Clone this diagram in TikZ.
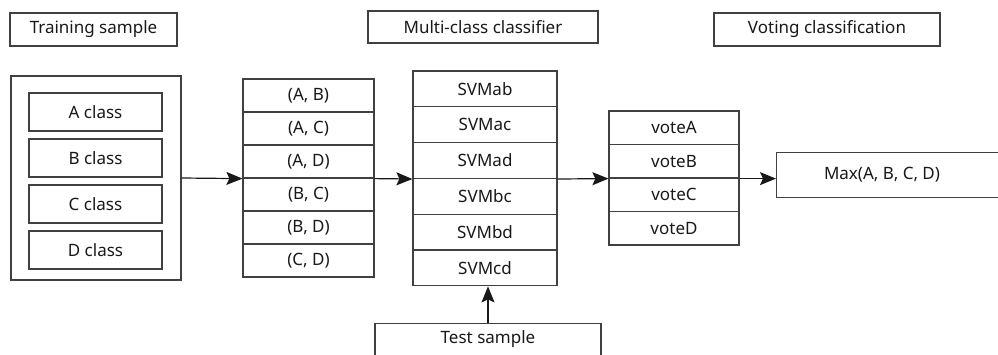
\documentclass[tikz,border=0pt]{standalone}
\usepackage{fontspec}
\setmainfont{Noto Sans}
\usetikzlibrary{arrows.meta}
\begin{document}
\begin{tikzpicture}[x=1pt,y=-1pt,
  every node/.style={font=\fontsize{17}{19}\selectfont,text=black!90},
  cell/.style={draw=black!75,line width=1.2pt,inner sep=0pt},
  arr/.style={-{Stealth[length=16pt,width=13pt,inset=3pt]},line width=1.2pt,black!90}]
  \clip (0,0) rectangle (998,354);
  \fill[white] (0,0) rectangle (998,354);

  % headings
  \node[cell,minimum width=167,minimum height=33] (htrain) at (93.5,29.5) {Training sample};
  \node[cell,minimum width=230,minimum height=32] (hmulti) at (483,27) {Multi-class classifier};
  \node[cell,minimum width=226,minimum height=33] (hvote) at (827,29.5) {Voting classification};

  % training sample
  \node[cell,minimum width=170,minimum height=204] (train) at (96,178) {};
  \foreach \c [count=\i from 0] in {A,B,C,D}
    \node[cell,minimum width=133,minimum height=38] (cls\c) at (95.5,{112+46*\i}) {\c\ class};

  % class pairs
  \foreach \p [count=\i from 0] in {{A, B},{A, C},{A, D},{B, C},{B, D},{C, D}}
    \node[cell,minimum width=131,minimum height=33] (pair\i) at (308.5,{95.5+33*\i}) {(\p)};

  % classifiers
  \foreach \s [count=\i from 0] in {ab,ac,ad,bc,bd,cd}
    \node[cell,minimum width=144,minimum height=35.8] (svm\i) at (485,{88.9+35.8*\i}) {SVM\s};

  % votes
  \foreach \v [count=\i from 0] in {A,B,C,D}
    \node[cell,minimum width=130,minimum height=33.5] (vote\i) at (674,{127.75+33.5*\i}) {vote\v};

  \node[cell,minimum width=240,minimum height=45,anchor=west] (max) at (776,175) {};
  \node (maxlabel) at (882,175) {Max(A, B, C, D)};

  \node[cell,minimum width=226,minimum height=40,anchor=north] (test) at (488,323) {};
  \node (testlabel) at (488,339) {Test sample};

  \draw[arr] (train.east) -- (pair2.south west);
  \draw[arr] (pair2.south east) -- (svm2.south west);
  \draw[arr] (svm2.south east) -- (vote1.south west);
  \draw[arr] (vote1.south east) -- (vote1.south east -| max.west);
  \draw[arr] (test.north) -- (test.north |- svm5.south);
\end{tikzpicture}
\end{document}
